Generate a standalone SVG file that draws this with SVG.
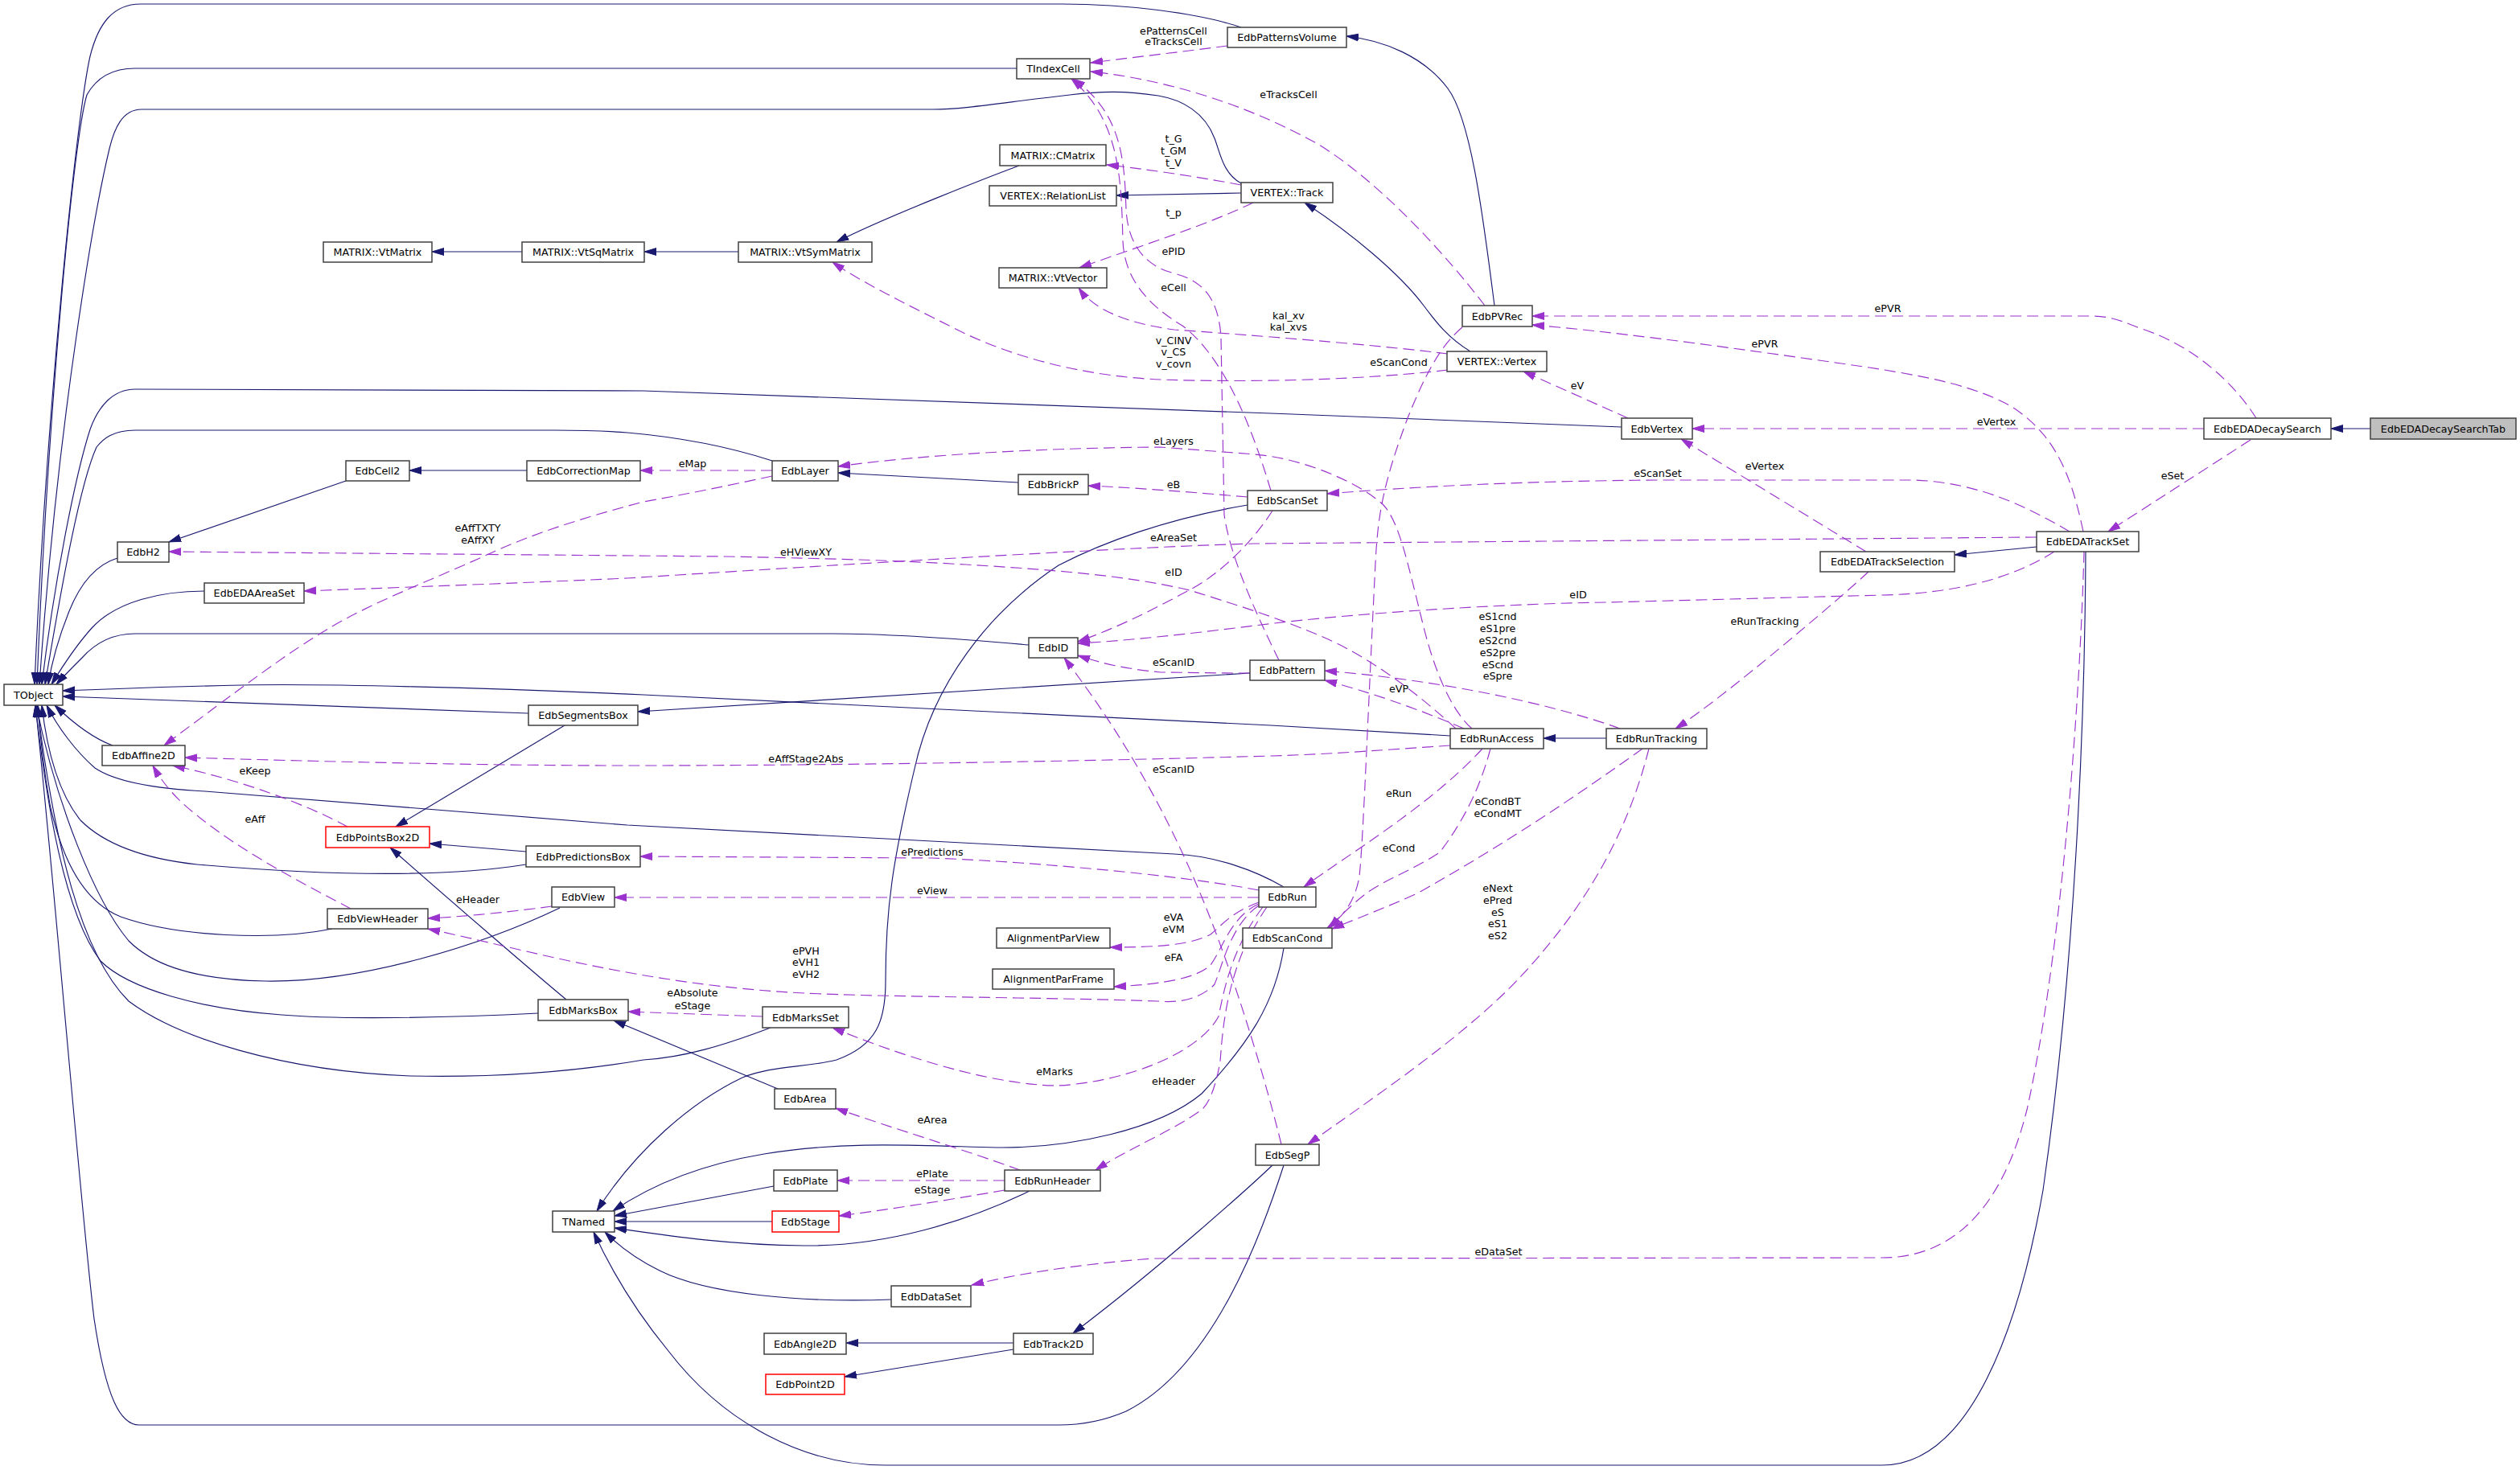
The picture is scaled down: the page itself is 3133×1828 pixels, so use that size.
<svg xmlns="http://www.w3.org/2000/svg" width="3133" height="1828" viewBox="0 0 3133 1828">
<style>
.node rect{fill:#ffffff;stroke:#404040;stroke-width:1.5}
.node.red rect{stroke:#ff0000}
.node.cur rect{fill:#bfbfbf}
.node text,.lbl{font-family:"DejaVu Sans","Liberation Sans",sans-serif;font-size:12.7px;fill:#000;text-anchor:middle}
.inh{fill:none;stroke:#191970;stroke-width:1.15;marker-end:url(#an)}
.use{fill:none;stroke:#9a32cd;stroke-width:1.15;stroke-dasharray:14,7;marker-end:url(#ap)}
</style>
<defs>
<marker id="an" markerUnits="userSpaceOnUse" markerWidth="16" markerHeight="12" viewBox="0 0 16 12" refX="15" refY="6" orient="auto"><path d="M0,1.5 L15,6 L0,10.5 z" fill="#191970" stroke="#191970" stroke-width="1"/></marker>
<marker id="ap" markerUnits="userSpaceOnUse" markerWidth="16" markerHeight="12" viewBox="0 0 16 12" refX="15" refY="6" orient="auto"><path d="M0,1.5 L15,6 L0,10.5 z" fill="#9a32cd" stroke="#9a32cd" stroke-width="1"/></marker>
</defs>
<rect width="3133" height="1828" fill="#ffffff"/>
<g id="connectors">
<path class="inh" d="M2947,533 L2898,533"/>
<path class="inh" d="M1543,34 C1490,16 1400,5 1320,5 L175,5 C140,5 122,30 112,70 C96,140 58,500 43,851"/>
<path class="inh" d="M1264,85 L168,85 C135,85 118,100 108,118 C92,170 60,500 46,851"/>
<path class="inh" d="M1543,228 C1520,215 1517,190 1510,172 C1498,140 1470,124 1440,119 C1400,113 1370,113 1330,118 C1250,127 1200,136 1160,136 L176,136 C152,136 142,160 136,185 C118,260 72,520 49,851"/>
<path class="inh" d="M2016,531 L1580,514 L800,486 L168,484 C140,484 122,506 112,534 C94,590 68,720 52,851"/>
<path class="inh" d="M960,573 C920,560 860,545 780,538 C740,535 700,535 690,535 L168,535 C140,535 128,546 120,556 C100,600 78,720 56,851"/>
<path class="inh" d="M146,694 C120,702 100,725 86,760 C72,795 64,825 60,851"/>
<path class="inh" d="M254,735 C200,735 145,748 115,780 C95,802 78,828 64,851"/>
<path class="inh" d="M1279,802 C1200,795 1100,788 1035,788 L168,788 C140,788 118,800 102,818 C90,830 78,842 70,851"/>
<path class="inh" d="M1803,915 L1580,902 L800,864 C600,855 400,850 300,852 C200,854 130,857 78,859"/>
<path class="inh" d="M657,887 L78,866"/>
<path class="inh" d="M1554,837 L793,885"/>
<path class="inh" d="M702,902 L492,1028"/>
<path class="inh" d="M140,927 C115,918 92,900 68,877"/>
<path class="inh" d="M1596,1103 C1560,1082 1510,1064 1460,1062 L780,1026 L255,984 C180,980 140,970 118,955 C95,935 72,905 58,877"/>
<path class="inh" d="M654,1059 L534,1049"/>
<path class="inh" d="M654,1075 C560,1090 420,1090 245,1075 C180,1068 130,1050 100,1020 C72,985 58,930 52,877"/>
<path class="inh" d="M413,1155 C340,1170 220,1165 150,1140 C100,1120 75,1060 62,1000 C55,960 50,920 47,877"/>
<path class="inh" d="M696,1129 C600,1175 450,1222 330,1220 C230,1218 185,1195 160,1170 C118,1120 70,1000 45,877"/>
<path class="inh" d="M704,1243 C670,1215 560,1120 485,1054"/>
<path class="inh" d="M669,1260 C550,1266 420,1268 350,1262 C250,1255 160,1230 125,1195 C80,1135 58,1000 44,877"/>
<path class="inh" d="M958,1278 C900,1300 850,1315 800,1318 C700,1335 600,1340 510,1338 C350,1332 220,1290 160,1245 C100,1185 68,1050 46,877"/>
<path class="inh" d="M967,1354 L763,1269"/>
<path class="inh" d="M1551,628 C1450,645 1370,675 1316,703 C1230,760 1160,850 1137,956 C1110,1070 1101,1130 1101,1220 C1101,1270 1090,1300 1040,1318 C1000,1328 960,1325 923,1340 C860,1370 790,1430 742,1506"/>
<path class="inh" d="M1596,1179 C1585,1250 1550,1300 1494,1360 C1440,1405 1330,1428 1239,1427 C1150,1425 1050,1418 950,1435 C860,1450 800,1480 762,1506"/>
<path class="inh" d="M962,1475 L764,1512"/>
<path class="inh" d="M960,1519 L764,1519"/>
<path class="inh" d="M1280,1481 C1200,1520 1100,1550 1000,1549 C900,1548 820,1535 764,1527"/>
<path class="inh" d="M1108,1616 C1000,1620 880,1610 820,1580 C790,1565 770,1550 752,1532"/>
<path class="inh" d="M2593,686 C2592,900 2580,1200 2540,1480 C2510,1650 2450,1822 2340,1822 L1100,1822 C1000,1822 900,1770 831,1680 C790,1630 760,1580 738,1532"/>
<path class="inh" d="M1596,1449 C1570,1530 1510,1700 1400,1755 C1370,1768 1340,1772 1316,1772 L173,1772 C150,1772 132,1740 117,1640 C100,1500 68,1100 44,877"/>
<path class="inh" d="M1583,1448 C1560,1470 1450,1570 1334,1658"/>
<path class="inh" d="M1260,1670 L1052,1670"/>
<path class="inh" d="M1260,1678 L1050,1712"/>
<path class="inh" d="M1997,918 L1919,918"/>
<path class="inh" d="M2532,680 L2430,690"/>
<path class="inh" d="M1858,380 C1845,280 1830,150 1800,110 C1770,70 1720,50 1674,45"/>
<path class="inh" d="M1543,240 L1388,243"/>
<path class="inh" d="M1828,437 C1800,420 1785,400 1770,380 C1740,340 1680,290 1622,252"/>
<path class="inh" d="M1267,206 C1240,216 1100,270 1040,301"/>
<path class="inh" d="M918,313 L801,313"/>
<path class="inh" d="M649,313 L537,313"/>
<path class="inh" d="M655,585 L509,585"/>
<path class="inh" d="M430,598 L210,674"/>
<path class="inh" d="M1266,600 L1042,588"/>
<g><path class="use" d="M2805,520 C2780,480 2730,430 2660,408 C2640,400 2625,393 2600,393 L1905,393"/><text class="lbl" x="2347" y="388">ePVR</text></g>
<g><path class="use" d="M2740,533 L2104,533"/><text class="lbl" x="2482" y="529">eVertex</text></g>
<g><path class="use" d="M2798,547 L2621,661"/><text class="lbl" x="2701" y="596">eSet</text></g>
<g><path class="use" d="M2590,661 C2575,590 2555,540 2500,505 C2440,472 2360,462 2240,445 C2120,428 2000,412 1905,404"/><text class="lbl" x="2194" y="432">ePVR</text></g>
<g><path class="use" d="M2573,661 C2520,630 2460,600 2380,597 L2061,597 C1900,598 1760,605 1650,614"/><text class="lbl" x="2061" y="593">eScanSet</text></g>
<g><path class="use" d="M2320,686 L2090,546"/><text class="lbl" x="2194" y="584">eVertex</text></g>
<g><path class="use" d="M2323,711 C2290,742 2140,870 2083,906"/><text class="lbl" x="2194" y="777">eRunTracking</text></g>
<g><path class="use" d="M2554,686 C2500,720 2430,738 2340,740 L2000,749 C1900,750 1700,760 1560,778 C1480,788 1400,797 1340,800"/><text class="lbl" x="1962" y="744">eID</text></g>
<g><path class="use" d="M2532,668 L1560,676 C1400,680 1000,705 780,719 C600,727 480,731 378,735"/><text class="lbl" x="1459" y="673">eAreaSet</text></g>
<g><path class="use" d="M2591,686 C2585,900 2560,1200 2520,1380 C2490,1500 2430,1564 2340,1564 L1433,1565 C1340,1572 1260,1585 1208,1598"/><text class="lbl" x="1863" y="1561">eDataSet</text></g>
<g><path class="use" d="M1846,380 C1800,320 1720,230 1640,180 C1560,135 1460,100 1356,89"/><text class="lbl" x="1602" y="122">eTracksCell</text></g>
<g><path class="use" d="M1526,57 C1480,63 1420,70 1356,78"/><text class="lbl" x="1459" y="43">ePatternsCell</text><text class="lbl" x="1459" y="56">eTracksCell</text></g>
<g><path class="use" d="M1543,230 C1500,222 1440,212 1376,205"/><text class="lbl" x="1459" y="177">t_G</text><text class="lbl" x="1459" y="192">t_GM</text><text class="lbl" x="1459" y="207">t_V</text></g>
<g><path class="use" d="M1558,252 C1500,280 1420,305 1342,333"/><text class="lbl" x="1459" y="269">t_p</text></g>
<g><path class="use" d="M1800,440 C1720,430 1600,420 1460,410 C1400,402 1360,385 1341,358"/><text class="lbl" x="1602" y="397">kal_xv</text><text class="lbl" x="1602" y="411">kal_xvs</text></g>
<g><path class="use" d="M1800,460 C1700,472 1560,476 1443,472 C1350,468 1260,445 1190,410 C1120,375 1070,350 1035,326"/><text class="lbl" x="1459" y="428">v_CINV</text><text class="lbl" x="1459" y="442">v_CS</text><text class="lbl" x="1459" y="457">v_covn</text></g>
<g><path class="use" d="M2024,520 L1894,462"/><text class="lbl" x="1961" y="484">eV</text></g>
<g><path class="use" d="M1551,618 C1480,612 1420,607 1353,604"/><text class="lbl" x="1459" y="607">eB</text></g>
<g><path class="use" d="M1582,635 C1560,670 1520,712 1480,733 C1430,760 1390,780 1340,798"/><text class="lbl" x="1459" y="716">eID</text></g>
<g><path class="use" d="M1554,837 C1500,837 1460,836 1443,836 C1400,832 1370,825 1340,815"/><text class="lbl" x="1459" y="828">eScanID</text></g>
<g><path class="use" d="M1593,1423 C1575,1350 1540,1230 1500,1130 C1440,980 1370,880 1323,818"/><text class="lbl" x="1459" y="961">eScanID</text></g>
<g><path class="use" d="M1590,821 C1575,790 1530,700 1522,640 L1518,420 C1515,365 1490,348 1460,340 C1420,330 1402,300 1400,260 C1398,200 1395,140 1334,98"/><text class="lbl" x="1459" y="362">eCell</text></g>
<g><path class="use" d="M1580,610 C1565,560 1530,450 1470,405 C1425,378 1398,345 1396,300 C1394,220 1392,150 1332,98"/><text class="lbl" x="1459" y="317">ePID</text></g>
<g><path class="use" d="M960,585 L796,585"/><text class="lbl" x="861" y="581">eMap</text></g>
<g><path class="use" d="M960,592 C900,605 850,615 800,624 C720,645 660,665 612,687 C540,720 460,750 408,782 C360,810 300,855 204,927"/><text class="lbl" x="594" y="661">eAffTXTY</text><text class="lbl" x="594" y="676">eAffXY</text></g>
<g><path class="use" d="M1830,906 C1800,880 1780,820 1770,780 C1750,700 1740,650 1720,628 C1690,600 1620,570 1560,565 L1443,556 C1300,557 1150,565 1042,580"/><text class="lbl" x="1459" y="553">eLayers</text></g>
<g><path class="use" d="M1810,906 C1760,860 1700,815 1640,790 C1580,765 1530,750 1479,734 C1400,715 1300,708 1200,702 C1100,696 1000,694 900,692 L210,686"/><text class="lbl" x="1002" y="691">eHViewXY</text></g>
<g><path class="use" d="M2014,906 C1920,872 1780,845 1647,834"/><text class="lbl" x="1862" y="771">eS1cnd</text><text class="lbl" x="1862" y="786">eS1pre</text><text class="lbl" x="1862" y="801">eS2cnd</text><text class="lbl" x="1862" y="816">eS2pre</text><text class="lbl" x="1862" y="831">eScnd</text><text class="lbl" x="1862" y="845">eSpre</text></g>
<g><path class="use" d="M1820,906 C1760,880 1700,860 1647,846"/><text class="lbl" x="1739" y="861">eVP</text></g>
<g><path class="use" d="M1803,927 C1700,934 1650,938 1580,940 C1300,948 1000,952 780,952 C600,952 400,947 230,942"/><text class="lbl" x="1002" y="948">eAffStage2Abs</text></g>
<g><path class="use" d="M1843,931 C1780,1000 1680,1060 1621,1103"/><text class="lbl" x="1739" y="991">eRun</text></g>
<g><path class="use" d="M1853,931 C1840,980 1820,1020 1790,1060 C1760,1080 1720,1095 1700,1110 C1680,1125 1665,1140 1653,1154"/><text class="lbl" x="1739" y="1059">eCond</text></g>
<g><path class="use" d="M2042,931 C1960,990 1870,1050 1764,1110 C1720,1130 1680,1145 1656,1155"/><text class="lbl" x="1862" y="1001">eCondBT</text><text class="lbl" x="1862" y="1016">eCondMT</text></g>
<g><path class="use" d="M1818,407 C1790,430 1770,470 1750,520 C1720,600 1713,640 1710,700 C1700,900 1695,1043 1690,1090 C1685,1120 1670,1140 1650,1154"/><text class="lbl" x="1739" y="455">eScanCond</text></g>
<g><path class="use" d="M2050,931 C2020,1050 1960,1140 1890,1215 C1820,1290 1700,1370 1626,1423"/><text class="lbl" x="1862" y="1109">eNext</text><text class="lbl" x="1862" y="1124">ePred</text><text class="lbl" x="1862" y="1139">eS</text><text class="lbl" x="1862" y="1153">eS1</text><text class="lbl" x="1862" y="1168">eS2</text></g>
<g><path class="use" d="M1565,1107 C1450,1085 1250,1070 1159,1067 L796,1065"/><text class="lbl" x="1159" y="1064">ePredictions</text></g>
<g><path class="use" d="M1565,1116 L764,1116"/><text class="lbl" x="1159" y="1112">eView</text></g>
<g><path class="use" d="M1565,1122 C1530,1135 1520,1150 1505,1162 C1480,1175 1440,1178 1380,1178"/><text class="lbl" x="1459" y="1145">eVA</text><text class="lbl" x="1459" y="1160">eVM</text></g>
<g><path class="use" d="M1565,1124 C1530,1140 1520,1180 1505,1200 C1490,1215 1450,1224 1385,1227"/><text class="lbl" x="1459" y="1195">eFA</text></g>
<g><path class="use" d="M1565,1126 C1530,1150 1520,1200 1510,1224 C1495,1240 1470,1248 1440,1245 C1300,1240 1100,1240 1000,1235 C800,1225 650,1180 532,1155"/><text class="lbl" x="1002" y="1187">ePVH</text><text class="lbl" x="1002" y="1201">eVH1</text><text class="lbl" x="1002" y="1216">eVH2</text></g>
<g><path class="use" d="M1570,1128 C1530,1180 1520,1240 1515,1264 C1490,1310 1400,1345 1316,1350 C1250,1350 1150,1325 1035,1278"/><text class="lbl" x="1311" y="1337">eMarks</text></g>
<g><path class="use" d="M1575,1128 C1525,1200 1520,1280 1517,1320 C1510,1360 1500,1375 1494,1380 C1460,1405 1400,1430 1362,1455"/><text class="lbl" x="1459" y="1349">eHeader</text></g>
<g><path class="use" d="M948,1264 L781,1258"/><text class="lbl" x="861" y="1239">eAbsolute</text><text class="lbl" x="861" y="1255">eStage</text></g>
<g><path class="use" d="M1268,1455 C1200,1430 1100,1400 1039,1378"/><text class="lbl" x="1159" y="1397">eArea</text></g>
<g><path class="use" d="M1249,1468 L1041,1468"/><text class="lbl" x="1159" y="1464">ePlate</text></g>
<g><path class="use" d="M1249,1480 C1180,1492 1100,1505 1043,1512"/><text class="lbl" x="1159" y="1484">eStage</text></g>
<g><path class="use" d="M686,1127 C650,1132 580,1140 532,1142"/><text class="lbl" x="594" y="1123">eHeader</text></g>
<g><path class="use" d="M432,1028 C380,1000 300,970 215,952"/><text class="lbl" x="317" y="963">eKeep</text></g>
<g><path class="use" d="M436,1130 C380,1100 300,1060 240,1010 C215,990 200,970 190,952"/><text class="lbl" x="317" y="1023">eAff</text></g>
</g>
<g id="nodes">
<g id="EdbEDADecaySearchTab" class="node cur"><rect x="2947" y="520" width="181" height="26"/><text x="3037.5" y="537.5">EdbEDADecaySearchTab</text></g>
<g id="EdbEDADecaySearch" class="node"><rect x="2740" y="520" width="158" height="26"/><text x="2819" y="537.5">EdbEDADecaySearch</text></g>
<g id="EdbPVRec" class="node"><rect x="1818" y="380" width="87" height="26"/><text x="1861.5" y="397.5">EdbPVRec</text></g>
<g id="EdbPatternsVolume" class="node"><rect x="1526" y="34" width="148" height="25"/><text x="1600" y="51">EdbPatternsVolume</text></g>
<g id="TObject" class="node"><rect x="5" y="851" width="73" height="26"/><text x="41.5" y="868.5">TObject</text></g>
<g id="TIndexCell" class="node"><rect x="1264" y="73" width="91" height="25"/><text x="1309.5" y="90">TIndexCell</text></g>
<g id="EdbLayer" class="node"><rect x="960" y="573" width="82" height="25"/><text x="1001" y="590">EdbLayer</text></g>
<g id="EdbCell2" class="node"><rect x="430" y="573" width="79" height="25"/><text x="469.5" y="590">EdbCell2</text></g>
<g id="EdbH2" class="node"><rect x="146" y="674" width="64" height="25"/><text x="178" y="691">EdbH2</text></g>
<g id="EdbCorrectionMap" class="node"><rect x="655" y="573" width="141" height="25"/><text x="725.5" y="590">EdbCorrectionMap</text></g>
<g id="EdbAffine2D" class="node"><rect x="127" y="927" width="103" height="25"/><text x="178.5" y="944">EdbAffine2D</text></g>
<g id="EdbVertex" class="node"><rect x="2016" y="520" width="88" height="26"/><text x="2060" y="537.5">EdbVertex</text></g>
<g id="VERTEX_Vertex" class="node"><rect x="1799" y="437" width="124" height="25"/><text x="1861" y="454">VERTEX::Vertex</text></g>
<g id="VERTEX_Track" class="node"><rect x="1543" y="227" width="114" height="25"/><text x="1600" y="244">VERTEX::Track</text></g>
<g id="VERTEX_RelationList" class="node"><rect x="1230" y="231" width="158" height="25"/><text x="1309" y="248">VERTEX::RelationList</text></g>
<g id="MATRIX_CMatrix" class="node"><rect x="1243" y="180" width="132" height="26"/><text x="1309" y="197.5">MATRIX::CMatrix</text></g>
<g id="MATRIX_VtSymMatrix" class="node"><rect x="918" y="301" width="166" height="25"/><text x="1001" y="318">MATRIX::VtSymMatrix</text></g>
<g id="MATRIX_VtSqMatrix" class="node"><rect x="649" y="301" width="152" height="25"/><text x="725" y="318">MATRIX::VtSqMatrix</text></g>
<g id="MATRIX_VtMatrix" class="node"><rect x="402" y="301" width="135" height="25"/><text x="469.5" y="318">MATRIX::VtMatrix</text></g>
<g id="MATRIX_VtVector" class="node"><rect x="1242" y="333" width="134" height="25"/><text x="1309" y="350">MATRIX::VtVector</text></g>
<g id="EdbEDATrackSet" class="node"><rect x="2532" y="661" width="127" height="25"/><text x="2595.5" y="678">EdbEDATrackSet</text></g>
<g id="EdbEDATrackSelection" class="node"><rect x="2263" y="686" width="167" height="25"/><text x="2346.5" y="703">EdbEDATrackSelection</text></g>
<g id="EdbScanSet" class="node"><rect x="1551" y="610" width="99" height="25"/><text x="1600.5" y="627">EdbScanSet</text></g>
<g id="EdbBrickP" class="node"><rect x="1266" y="590" width="87" height="25"/><text x="1309.5" y="607">EdbBrickP</text></g>
<g id="EdbID" class="node"><rect x="1279" y="793" width="61" height="25"/><text x="1309.5" y="810">EdbID</text></g>
<g id="EdbEDAAreaSet" class="node"><rect x="254" y="725" width="124" height="25"/><text x="316" y="742">EdbEDAAreaSet</text></g>
<g id="EdbRunTracking" class="node"><rect x="1997" y="906" width="125" height="25"/><text x="2059.5" y="923">EdbRunTracking</text></g>
<g id="EdbRunAccess" class="node"><rect x="1803" y="906" width="116" height="25"/><text x="1861" y="923">EdbRunAccess</text></g>
<g id="EdbPattern" class="node"><rect x="1554" y="821" width="93" height="25"/><text x="1600.5" y="838">EdbPattern</text></g>
<g id="EdbSegmentsBox" class="node"><rect x="657" y="877" width="136" height="25"/><text x="725" y="894">EdbSegmentsBox</text></g>
<g id="EdbPointsBox2D" class="node red"><rect x="405" y="1028" width="129" height="26"/><text x="469.5" y="1045.5">EdbPointsBox2D</text></g>
<g id="EdbPredictionsBox" class="node"><rect x="654" y="1052" width="142" height="26"/><text x="725" y="1069.5">EdbPredictionsBox</text></g>
<g id="EdbRun" class="node"><rect x="1565" y="1103" width="71" height="25"/><text x="1600.5" y="1120">EdbRun</text></g>
<g id="EdbView" class="node"><rect x="686" y="1103" width="78" height="25"/><text x="725" y="1120">EdbView</text></g>
<g id="EdbViewHeader" class="node"><rect x="407" y="1130" width="125" height="25"/><text x="469.5" y="1147">EdbViewHeader</text></g>
<g id="AlignmentParView" class="node"><rect x="1239" y="1154" width="141" height="25"/><text x="1309.5" y="1171">AlignmentParView</text></g>
<g id="AlignmentParFrame" class="node"><rect x="1234" y="1205" width="151" height="25"/><text x="1309.5" y="1222">AlignmentParFrame</text></g>
<g id="EdbScanCond" class="node"><rect x="1545" y="1154" width="111" height="25"/><text x="1600.5" y="1171">EdbScanCond</text></g>
<g id="EdbMarksSet" class="node"><rect x="948" y="1252" width="107" height="26"/><text x="1001.5" y="1269.5">EdbMarksSet</text></g>
<g id="EdbMarksBox" class="node"><rect x="669" y="1243" width="112" height="26"/><text x="725" y="1260.5">EdbMarksBox</text></g>
<g id="EdbArea" class="node"><rect x="963" y="1354" width="76" height="25"/><text x="1001" y="1371">EdbArea</text></g>
<g id="EdbRunHeader" class="node"><rect x="1249" y="1455" width="119" height="26"/><text x="1308.5" y="1472.5">EdbRunHeader</text></g>
<g id="EdbPlate" class="node"><rect x="962" y="1455" width="79" height="26"/><text x="1001.5" y="1472.5">EdbPlate</text></g>
<g id="EdbStage" class="node red"><rect x="960" y="1506" width="83" height="26"/><text x="1001.5" y="1523.5">EdbStage</text></g>
<g id="TNamed" class="node"><rect x="687" y="1506" width="77" height="26"/><text x="725.5" y="1523.5">TNamed</text></g>
<g id="EdbSegP" class="node"><rect x="1561" y="1423" width="79" height="26"/><text x="1600.5" y="1440.5">EdbSegP</text></g>
<g id="EdbDataSet" class="node"><rect x="1108" y="1599" width="99" height="26"/><text x="1157.5" y="1616.5">EdbDataSet</text></g>
<g id="EdbTrack2D" class="node"><rect x="1260" y="1658" width="99" height="26"/><text x="1309.5" y="1675.5">EdbTrack2D</text></g>
<g id="EdbAngle2D" class="node"><rect x="950" y="1658" width="102" height="26"/><text x="1001" y="1675.5">EdbAngle2D</text></g>
<g id="EdbPoint2D" class="node red"><rect x="952" y="1709" width="98" height="25"/><text x="1001" y="1726">EdbPoint2D</text></g>
</g>
</svg>
